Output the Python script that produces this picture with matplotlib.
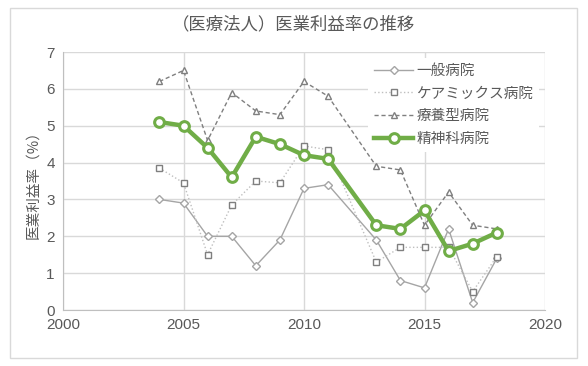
import numpy as np
import matplotlib
matplotlib.use("Agg")
import matplotlib.pyplot as plt
from matplotlib.patches import FancyBboxPatch

plt.rcParams['font.family'] = ['Noto Sans CJK JP', 'DejaVu Sans']

years = [2004, 2005, 2006, 2007, 2008, 2009, 2010, 2011, 2013, 2014, 2015, 2016, 2017, 2018]
general = [3.0, 2.9, 2.0, 2.0, 1.2, 1.9, 3.3, 3.4, 1.9, 0.8, 0.6, 2.2, 0.2, 1.4]
caremix = [3.85, 3.45, 1.5, 2.85, 3.5, 3.45, 4.45, 4.35, 1.3, 1.7, 1.7, 1.7, 0.5, 1.45]
ryoyo = [6.2, 6.5, 4.6, 5.9, 5.4, 5.3, 6.2, 5.8, 3.9, 3.8, 2.3, 3.2, 2.3, 2.2]
seishin = [5.1, 5.0, 4.4, 3.6, 4.7, 4.5, 4.2, 4.1, 2.3, 2.2, 2.7, 1.6, 1.8, 2.1]

labels = ['一般病院', 'ケアミックス病院', '療養型病院', '精神科病院']
title = '（医療法人）医業利益率の推移'
ylabel = '医業利益率（%）'

fig = plt.figure(figsize=(5.88, 3.66), dpi=100)
fig.patch.set_facecolor('white')
fig.patches.append(FancyBboxPatch((10 / 588, 8 / 366), 567 / 588, 350 / 366,
                                  boxstyle='square,pad=0', transform=fig.transFigure,
                                  facecolor='none', edgecolor='#d9d9d9', lw=1))

ax = fig.add_axes([63 / 588, 1 - 310 / 366, 482 / 588, 258 / 366])

ax.plot(years, general, color='#a5a5a5', lw=1, marker='D', ms=4,
        mfc='white', mec='#a5a5a5', mew=1, label=labels[0])
ax.plot(years, caremix, color='#bfbfbf', lw=1, ls=':', marker='s', ms=4.5,
        mfc='white', mec='#7f7f7f', mew=1, label=labels[1])
ax.plot(years, ryoyo, color='#7f7f7f', lw=1, ls=(0, (3, 2)), marker='^', ms=4,
        mfc='white', mec='#7f7f7f', mew=1, label=labels[2])
ax.plot(years, seishin, color='#70ad47', lw=3.2, marker='o', ms=7,
        mfc='white', mec='#70ad47', mew=2.2, label=labels[3])

ax.set_xlim(2000, 2020)
ax.set_ylim(0, 7)
ax.set_xticks(range(2000, 2021, 5))
ax.set_yticks(range(0, 8))
ax.grid(True, color='#d9d9d9', lw=1)
ax.set_axisbelow(True)
for side in ['top', 'right']:
    ax.spines[side].set_visible(False)
for side in ['left', 'bottom']:
    ax.spines[side].set_color('#bfbfbf')
ax.tick_params(length=0, colors='#595959', labelsize=11, pad=6)
for t in ax.get_xticklabels() + ax.get_yticklabels():
    t.set_family(['Liberation Sans', 'DejaVu Sans'])
    t.set_color('#595959')

ax.set_ylabel(ylabel, color='#595959', fontsize=10.5, labelpad=4)
fig.text(0.5, 1 - 24 / 366, title, ha='center', va='center', fontsize=12.5, color='#595959')

leg = ax.legend(loc='upper right', bbox_to_anchor=(1.0, 1.0), frameon=True, fontsize=10.5,
                handlelength=2.7, labelspacing=0.6, borderaxespad=0.4, handletextpad=0.2)
leg.get_frame().set_edgecolor('none')
leg.get_frame().set_facecolor('white')
leg.get_frame().set_alpha(1)
for t in leg.get_texts():
    t.set_color('#595959')

fig.savefig('out.png', dpi=100)
